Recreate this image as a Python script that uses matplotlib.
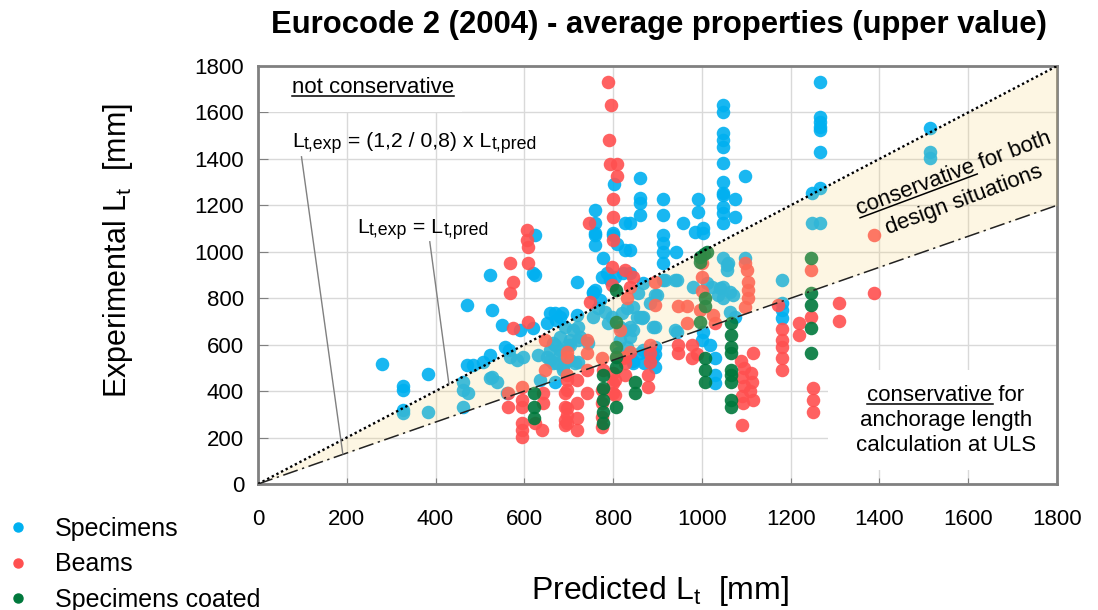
import matplotlib
matplotlib.use("Agg")
import matplotlib.pyplot as plt
from matplotlib.lines import Line2D
from matplotlib.patches import Rectangle
from matplotlib.transforms import IdentityTransform
import numpy as np

plt.rcParams["font.family"] = "Liberation Sans"
plt.rcParams["mathtext.fontset"] = "custom"
plt.rcParams["mathtext.rm"] = "Liberation Sans"
plt.rcParams["mathtext.it"] = "Liberation Sans:italic"
plt.rcParams["mathtext.bf"] = "Liberation Sans:bold"

# (predicted Lt, experimental Lt) in mm
specimens = [
    (279, 515), (327, 420), (327, 405), (327, 320), (327, 305), (384, 475), (384, 310),
    (462, 440), (462, 405), (462, 330), (471, 512), (471, 770), (473, 390), (484, 512),
    (507, 525), (523, 900), (523, 555), (523, 456), (527, 749), (527, 461), (538, 440),
    (550, 684), (556, 590), (565, 577), (568, 547), (561, 392), (583, 534), (590, 663), (597, 547),
    (620, 908), (620, 672), (624, 1072), (624, 900), (631, 555), (651, 547), (635, 448),
    (658, 736), (672, 706), (685, 736), (669, 440), (703, 620), (718, 870), (718, 728), (720, 620),
    (650, 692), (669, 736), (680, 719), (691, 676), (680, 633), (669, 599), (658, 577), (698, 599),
    (680, 555), (665, 521), (687, 504), (710, 663), (721, 676), (725, 633), (721, 525), (744, 607),
    (665, 607), (680, 577), (703, 598), (658, 534), (673, 521), (687, 491), (703, 534), (714, 521),
    (755, 719), (766, 758), (755, 822), (759, 835), (770, 792), (782, 741), (789, 693), (797, 719),
    (820, 736), (831, 758), (845, 762), (815, 676), (827, 663), (838, 633), (815, 620), (831, 590),
    (811, 564), (838, 564), (861, 564), (890, 547), (894, 590), (868, 719), (890, 676), (898, 814),
    (755, 826), (759, 1180), (759, 1124), (759, 1081), (759, 1029), (759, 1072),
    (777, 973), (775, 891), (786, 908), (793, 878), (804, 891), (822, 908), (838, 908),
    (800, 1072), (800, 1081), (809, 1033), (802, 1292), (827, 1124), (827, 1008), (838, 1124), (838, 1008),
    (861, 1318), (861, 1231), (861, 1210), (861, 1158), (861, 719),
    (845, 530), (870, 520), (894, 504), (894, 560), (838, 676), (894, 814), (894, 676),
    (868, 865), (856, 822), (883, 779), (853, 719), (865, 715), (845, 663), (944, 654),
    (845, 521), (868, 577),
    (912, 1227), (912, 1158), (912, 1072), (912, 1038), (912, 999), (912, 951), (912, 878), (939, 878),
    (917, 878), (939, 663), (942, 999), (944, 878), (958, 1124),
    (991, 1227), (991, 1171), (984, 1085), (1002, 1102), (1002, 1081),
    (1003, 654), (1000, 620), (1018, 598), (1030, 542), (1030, 469), (1030, 435),
    (980, 848), (1012, 865), (1023, 848), (1041, 844), (1048, 848), (1063, 826), (1070, 813),
    (1037, 813), (1048, 801), (1063, 741), (1075, 719),
    (1048, 1632), (1048, 1602), (1048, 1511), (1048, 1481), (1048, 1451), (1048, 1382), (1048, 1300),
    (1048, 1253), (1048, 1245), (1048, 1193), (1048, 1167), (1048, 1124), (1048, 973), (1057, 943),
    (1057, 921), (1059, 951), (1075, 1227), (1075, 1150), (1097, 1326), (1097, 973),
    (1180, 878), (1180, 779), (1180, 749), (1180, 715),
    (1248, 1253), (1266, 1275), (1248, 1124), (1266, 1124),
    (1266, 1731), (1266, 1580), (1266, 1559), (1266, 1537), (1266, 1524), (1266, 1430),
    (1514, 1533), (1514, 1430), (1514, 1404),
]

beams = [
    (563, 392), (563, 332), (568, 951), (568, 822), (575, 870), (575, 672),
    (595, 418), (595, 362), (595, 332), (595, 263), (595, 232), (595, 202),
    (606, 1094), (606, 1051), (608, 1020), (608, 951), (608, 698),
    (624, 263), (640, 232), (642, 392), (642, 349), (646, 620), (646, 491),
    (691, 392), (691, 332), (691, 275), (691, 254),
    (696, 568), (696, 547), (696, 469), (696, 448), (696, 405), (696, 327), (696, 297), (696, 263),
    (718, 448), (718, 349), (718, 284), (718, 232),
    (741, 620), (741, 564), (741, 491), (741, 392), (746, 1124), (748, 784),
    (775, 542), (775, 405), (775, 349), (775, 289), (775, 245), (777, 491),
    (789, 1731), (795, 1632), (791, 1481), (793, 1378), (809, 1378), (809, 1326),
    (800, 1227), (800, 1150), (800, 1051), (800, 478), (800, 435), (800, 392),
    (797, 934), (797, 857), (804, 448), (804, 383), (815, 663),
    (809, 547), (822, 542), (838, 568),
    (827, 921), (827, 547), (827, 521), (827, 469), (831, 801), (838, 848), (845, 891),
    (879, 469), (879, 418), (883, 598), (883, 564), (883, 525),
    (894, 870), (894, 771), (946, 766), (946, 598), (946, 564), (966, 766), (966, 693),
    (977, 598), (977, 543), (990, 560), (1000, 951), (1000, 891), (1000, 830), (996, 749),
    (1025, 728), (1030, 693),
    (1097, 951), (1101, 921), (1104, 870), (1104, 835), (1104, 801), (1097, 762),
    (1088, 530), (1095, 500), (1110, 480), (1090, 460), (1112, 440), (1095, 420), (1108, 400),
    (1090, 380), (1115, 360), (1092, 350), (1090, 254), (1115, 564),
    (1171, 771), (1180, 668), (1180, 620), (1180, 590), (1180, 542), (1180, 491),
    (1219, 693), (1219, 642), (1246, 921), (1246, 719), (1250, 413), (1250, 362), (1250, 310),
    (1309, 779), (1309, 702), (1388, 1072), (1388, 822),
]

coated = [
    (622, 392), (622, 332), (622, 284),
    (777, 469), (777, 413), (777, 362), (777, 310), (777, 263),
    (807, 835), (807, 698), (807, 590), (807, 547), (807, 504), (807, 332),
    (849, 440), (849, 392),
    (996, 977), (996, 956), (1005, 990), (1012, 999), (996, 698),
    (1007, 801), (1007, 766), (1007, 542), (1007, 491), (1007, 440),
    (1066, 693), (1066, 642), (1066, 590), (1066, 564), (1066, 491), (1066, 469), (1066, 440),
    (1066, 362), (1066, 332),
    (1246, 973), (1246, 822), (1246, 771), (1246, 672), (1246, 564),
]

series_names = ["Specimens", "Beams", "Specimens coated"]
series_colors = ["#00B0F0", "#FF5050", "#00783C"]
ratio_upper = 1.0
ratio_lower = 0.8 / 1.2
ticks = list(range(0, 1801, 200))

fig = plt.figure(figsize=(10.98, 6.10), dpi=100)
W, H = 1098, 610
ax = fig.add_axes([258 / W, 1 - 484 / H, 799 / W, 418 / H])


def fx(x):
    return x / W


def fy(y):
    return 1 - y / H


for data, col in zip([specimens, beams, coated], series_colors):
    xs, ys = zip(*data)
    ax.scatter(xs, ys, s=95, color=col, alpha=0.9, linewidths=0, zorder=3)

# shaded zone between the two lines
lx = np.array([0, 1800])
ax.fill_between(lx, lx * ratio_lower, lx * ratio_upper, color="#F5D273", alpha=0.2, lw=0, zorder=4)
ax.plot(lx, lx * ratio_upper, color="black", ls=(0, (1, 1.2)), lw=1.7, zorder=5)
ax.plot(lx, lx * ratio_lower, color="#222222", ls=(0, (10, 3, 1.5, 3)), lw=1.1, zorder=5)

# leader lines
ax.plot([98, 191], [1409, 130], color="#808080", lw=1, zorder=5)
ax.plot([387, 430], [1043, 432], color="#808080", lw=1, zorder=5)

ax.set_xlim(0, 1800)
ax.set_ylim(0, 1800)
ax.set_xticks(ticks)
ax.set_yticks(ticks)
ax.grid(color="#D9D9D9", lw=1)
ax.set_axisbelow(True)
for sp in ax.spines.values():
    sp.set_color("#808080")
    sp.set_linewidth(2)
ax.tick_params(axis="both", direction="in", colors="#808080", labelcolor="black", labelsize=16)
ax.tick_params(axis="x", length=4, pad=18)
ax.tick_params(axis="y", length=7, pad=10)

# white boxes behind corner notes
ax.add_patch(Rectangle((0, 1600), 460, 200, facecolor="white", edgecolor="none", zorder=1))
ax.add_patch(Rectangle((1285, 60), 515, 430, facecolor="white", edgecolor="none", zorder=1))

fig.text(fx(659), fy(25), "Eurocode 2 (2004) - average properties (upper value)",
         ha="center", va="center", fontsize=22.3, fontweight="bold")
fig.text(fx(118), fy(250), r"Experimental L$_\mathrm{t}$  [mm]", rotation=90,
         ha="center", va="center", fontsize=22)
fig.text(fx(660), fy(591), r"Predicted L$_\mathrm{t}$  [mm]", ha="center", va="center", fontsize=23)

renderer = fig.canvas.get_renderer()


def width_px(s, size):
    t = fig.text(0, 0, s, fontsize=size)
    w = t.get_window_extent(renderer=renderer).width
    t.remove()
    return w


def advance(s, size):
    # width including leading / trailing blanks
    return width_px("|" + s + "|", size) - width_px("||", size)


def runs_text(x, y, runs):
    # runs: (string, fontsize, drop in px)
    for s, size, drop in runs:
        fig.text(fx(x), fy(y + drop), s, ha="left", va="baseline", fontsize=size)
        x += advance(s, size)


def underline(x0, y0, w, ang=0.0, off=3):
    a = np.radians(ang)
    ux, uy = np.cos(a), np.sin(a)
    nx, ny = np.sin(a), -np.cos(a)
    xa, ya = x0 + nx * off, (H - y0) + ny * off
    fig.add_artist(Line2D([xa, xa + ux * w], [ya, ya + uy * w], color="black", lw=1.1,
                          transform=IdentityTransform()))


fs = 16
fig.text(fx(292), fy(93), "not conservative", ha="left", va="baseline", fontsize=fs)
underline(292, 93, width_px("not conservative", fs))

big, small = 15.3, 12.8
runs_text(292, 147, [("L", big, 0), ("t,exp", small, 2), (" = (1,2 / 0,8) x L", big, 0),
                     ("t,pred", small, 2)])
runs_text(357, 233, [("L", big, 0), ("t,exp", small, 2), (" = L", big, 0), ("t,pred", small, 2)])

# rotated note inside the shaded zone
ang = 20.5
l1, l2 = "conservative for both", "design situations"
w1, w2 = width_px(l1, fs), width_px(l2, fs)
a = np.radians(ang)
x1, y1 = 859, 215
fig.text(fx(x1), fy(y1), l1, rotation=ang, rotation_mode="anchor", ha="left", va="baseline",
         fontsize=fs)
underline(x1, y1, width_px("conservative", fs), ang)
shift = (w1 - w2) / 2
gap = 28
x2 = x1 + shift * np.cos(a) + gap * np.sin(a)
y2 = y1 - shift * np.sin(a) + gap * np.cos(a)
fig.text(fx(x2), fy(y2), l2, rotation=ang, rotation_mode="anchor", ha="left", va="baseline",
         fontsize=fs)

# lower right note
cx = 946
lines = ["conservative for", "anchorage length", "calculation at ULS"]
for i, s in enumerate(lines):
    fig.text(fx(cx), fy(401 + 25 * i), s, ha="center", va="baseline", fontsize=fs)
w_line = width_px(lines[0], fs)
underline(cx - w_line / 2, 401, width_px("conservative", fs))

handles = [Line2D([], [], ls="none", marker="o", markersize=6.5, color=c) for c in series_colors]
fig.legend(handles, series_names, loc="upper left", bbox_to_anchor=(fx(10.5), fy(517)),
           frameon=False, fontsize=18, handlelength=0.6, handletextpad=1.18,
           labelspacing=0.45, borderpad=0, borderaxespad=0)

fig.savefig("out.png", dpi=100)
